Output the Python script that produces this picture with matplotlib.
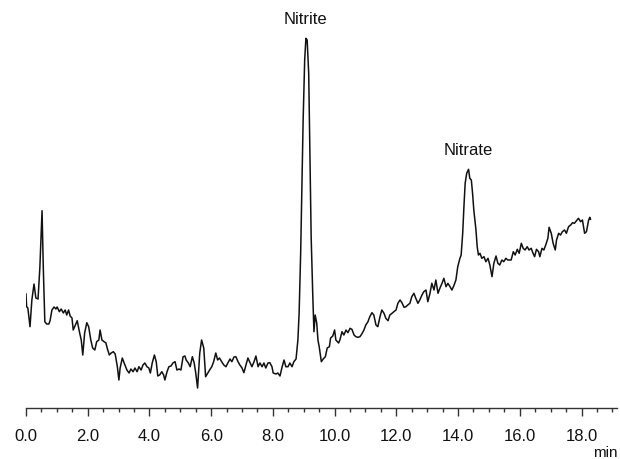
import matplotlib
matplotlib.use("Agg")
import matplotlib.pyplot as plt
from matplotlib.ticker import MultipleLocator

# --- Chromatogramme (temps en min, signal en unités arbitraires) ---
time_min = [
    0.00, 0.02, 0.06, 0.13, 0.19, 0.26, 0.32, 0.39, 0.45, 0.52, 0.56, 0.61, 0.67, 0.74, 0.78,
    0.84, 0.91, 0.97, 1.01, 1.08, 1.14, 1.21, 1.27, 1.32, 1.38, 1.43, 1.49, 1.53, 1.60, 1.66,
    1.73, 1.79, 1.84, 1.90, 1.97, 2.03, 2.10, 2.16, 2.23, 2.29, 2.36, 2.40, 2.46, 2.53, 2.59,
    2.63, 2.70, 2.76, 2.83, 2.89, 2.96,
    3.01, 3.05, 3.12, 3.18, 3.27, 3.34, 3.40, 3.47, 3.53, 3.60, 3.66, 3.73, 3.79, 3.85, 3.92,
    3.98, 4.03, 4.09, 4.16, 4.22, 4.27, 4.33, 4.40, 4.46, 4.50, 4.57, 4.63, 4.70, 4.76, 4.83,
    4.89, 4.96, 5.02, 5.09, 5.15, 5.19, 5.26, 5.32, 5.39, 5.45, 5.50, 5.56, 5.63, 5.69, 5.76,
    5.82, 5.89, 5.95, 6.02, 6.08, 6.15, 6.21, 6.27, 6.34,
    6.41, 6.48, 6.54, 6.61, 6.67, 6.74, 6.80, 6.87, 6.93, 7.00, 7.06, 7.13, 7.19, 7.26, 7.32,
    7.39, 7.45, 7.52, 7.58, 7.65, 7.71, 7.77, 7.84, 7.90, 7.97, 8.01, 8.10, 8.16, 8.23, 8.29,
    8.36, 8.42, 8.49, 8.55, 8.62, 8.68, 8.75,
    8.81, 8.85, 8.90, 8.94, 8.98, 9.03, 9.07, 9.11, 9.16, 9.20, 9.24, 9.29, 9.33, 9.37, 9.42,
    9.46, 9.50, 9.57, 9.63, 9.70, 9.76, 9.83, 9.87, 9.94, 10.00, 10.04, 10.13,
    10.17, 10.24, 10.30, 10.37, 10.43, 10.50, 10.56, 10.63, 10.69, 10.75, 10.82, 10.88, 10.95,
    11.01, 11.08, 11.14, 11.21, 11.27, 11.34, 11.40, 11.47, 11.53, 11.60, 11.66, 11.73, 11.79,
    11.86, 11.92, 11.99, 12.05, 12.12, 12.18, 12.25, 12.31, 12.37, 12.44, 12.50, 12.57, 12.63,
    12.70, 12.76, 12.83, 12.89, 12.96, 13.02,
    13.09, 13.15, 13.22, 13.28, 13.35, 13.41, 13.48, 13.54, 13.61, 13.67, 13.74, 13.80, 13.86,
    13.93, 13.99, 14.06, 14.10, 14.15, 14.19, 14.23, 14.28, 14.34, 14.38, 14.43, 14.47, 14.51,
    14.58, 14.62, 14.66, 14.71, 14.77, 14.84, 14.90, 14.97, 15.03, 15.10, 15.16, 15.23, 15.29,
    15.35, 15.42, 15.48, 15.55, 15.61,
    15.72, 15.79, 15.85, 15.92, 15.98, 16.05, 16.11, 16.17, 16.24, 16.30, 16.37, 16.43, 16.48,
    16.54, 16.61, 16.65, 16.72, 16.78, 16.84, 16.91, 16.95, 17.02, 17.08, 17.15, 17.19, 17.26,
    17.32, 17.38, 17.45, 17.51, 17.58, 17.65, 17.71, 17.77, 17.84, 17.90, 17.97, 18.03, 18.10,
    18.16, 18.23, 18.27, 18.29,
]

signal = [
    115, 102.3, 101, 82.3, 109, 125, 111, 110, 142, 198.3, 142, 87.3, 85, 85, 88.3,
    99, 102, 100, 102, 97.3, 100, 96, 99, 94, 99, 93, 91, 79, 84, 88.3,
    77.3, 69, 54, 76, 86.3, 82.3, 69, 61, 59, 67.3, 69, 79, 69, 67.3, 66,
    61, 54, 56, 57.3, 55, 42.3,
    29, 41, 51, 46, 39, 36, 40, 37.3, 41, 37.3, 42.3, 39, 44, 46, 42.3,
    41, 36, 46, 54, 47.3, 33, 34, 37.3, 34, 29, 37.3, 42.3, 43, 46, 47.3,
    39, 40, 39, 52.3, 53, 49, 46, 42.3, 52.3, 46, 36, 21, 56, 69, 61,
    32.3, 36, 39, 42.3, 47.3, 56, 49, 51, 47.3,
    44, 42.3, 46, 50, 47.3, 52, 52.3, 47.3, 44, 41, 36.3, 44, 51, 46.3, 42.3,
    47.3, 53, 42.3, 46, 42.3, 46, 41, 46, 46.3, 42.3, 36, 35, 36, 33, 41,
    49, 42.3, 42.3, 46, 42.3, 47.3, 50,
    69, 96, 156, 222, 289, 349, 370.7, 369, 336, 256, 172, 116, 77.3, 94, 86,
    69, 62.3, 47.3, 50, 52.3, 61, 62.3, 71, 73, 79, 69, 66,
    69, 77.3, 74, 79, 76.3, 80.7, 79.7, 74, 72.3, 71.7, 72.3, 75, 79,
    84, 87.3, 92.3, 96.3, 94, 84, 82.3, 92.3, 99, 95.7, 90.7, 88.3, 94,
    95.7, 97.3, 99, 105.7, 109, 106.3, 101.7, 102.3, 104, 105.7, 112.3, 115.7, 110.7,
    105.7, 109, 114, 117.3, 119, 107.3,
    115.7, 125.7, 119, 129, 115.7, 120.7, 125.7, 130.7, 122.3, 125.7, 122.3, 119, 123,
    129, 142.3, 150.7, 154, 175.7, 202.3, 225.7, 235.7, 239.7, 230.7, 229, 215.7, 199,
    179, 162.3, 154, 155.7, 150.7, 152.3, 147.3, 150.7, 144, 132.3, 145.7, 153, 145.7,
    144, 149, 147.3, 150.7, 149,
    149, 157.3, 154, 159.7, 155.7, 165.7, 160.7, 159, 162.3, 159, 160.7, 155.7, 152.3,
    159.7, 157.3, 152.3, 160.7, 159, 164, 170.7, 181.7, 175.7, 165.7, 159, 169, 175.7,
    174, 177.3, 179, 175.7, 182.3, 184, 186.3, 185.7, 188.3, 190.7, 187.3, 189, 175.7,
    177.3, 189, 191.7, 189.7,
]

# --- Pics identifiés ---
peak_names = ["Nitrite", "Nitrate"]
peak_windows = [(8.8, 9.5), (14.0, 14.7)]

tick_values = [0, 2, 4, 6, 8, 10, 12, 14, 16, 18]
tick_labels = ["0.0", "2.0", "4.0", "6.0", "8.0", "10.0", "12.0", "14.0", "16.0", "18.0"]

plt.rcParams["font.family"] = ["Liberation Sans", "DejaVu Sans"]

fig = plt.figure(figsize=(6.2, 4.59), dpi=100)
ax = fig.add_axes([26 / 620, 51 / 459, 591 / 620, 408 / 459])

ax.plot(time_min, signal, color="#111111", lw=1.1)

# étiquettes des pics au-dessus du maximum
for name, (t0, t1) in zip(peak_names, peak_windows):
    pts = [(t, s) for t, s in zip(time_min, signal) if t0 <= t <= t1]
    tp, sp = max(pts, key=lambda p: p[1])
    ax.annotate(name, xy=(tp, sp), xytext=(0, 8), textcoords="offset points",
                ha="center", va="bottom", fontsize=12, color="#111111")

ax.set_xlim(0, 19.15)
ax.set_ylim(1, 409)

for side in ["left", "right", "top"]:
    ax.spines[side].set_visible(False)
ax.spines["bottom"].set_color("#333333")
ax.spines["bottom"].set_linewidth(1.0)

ax.set_yticks([])
ax.set_xticks(tick_values)
ax.set_xticklabels(tick_labels, fontsize=12, color="#111111")
ax.xaxis.set_minor_locator(MultipleLocator(0.5))
ax.tick_params(axis="x", which="major", direction="out", length=6, width=1.0,
               color="#333333", pad=9)
ax.tick_params(axis="x", which="minor", direction="out", length=3, width=1.0,
               color="#333333")

fig.text(605 / 620, 1 - 453 / 459, "min", ha="center", va="center",
         fontsize=11, color="#111111")

fig.savefig("out.png", dpi=100)
